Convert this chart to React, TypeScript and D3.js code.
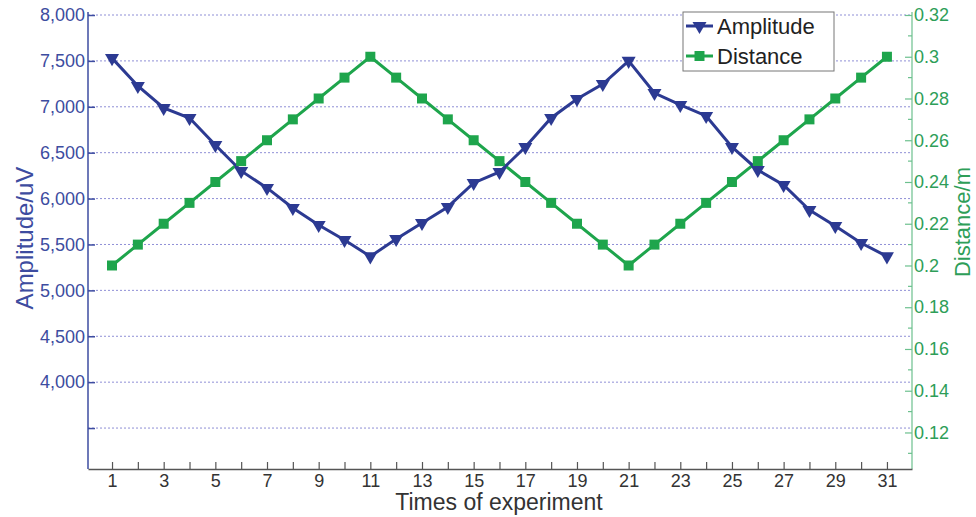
import React, { useEffect, useRef } from 'react';
import * as d3 from 'd3';

const runs = d3.range(1, 32);
const amplitude = [7530, 7227, 6987, 6878, 6584, 6301, 6116, 5898, 5712, 5549, 5370,
    5560, 5734, 5909, 6170, 6290, 6562, 6878, 7085, 7248, 7500,
    7150, 7020, 6900, 6562, 6312, 6148, 5876, 5702, 5516, 5370];
const distance = [0.2, 0.21, 0.22, 0.23, 0.24, 0.25, 0.26, 0.27, 0.28, 0.29, 0.3,
    0.29, 0.28, 0.27, 0.26, 0.25, 0.24, 0.23, 0.22, 0.21, 0.2,
    0.21, 0.22, 0.23, 0.24, 0.25, 0.26, 0.27, 0.28, 0.29, 0.3];
const ampTicks = [3500, 4000, 4500, 5000, 5500, 6000, 6500, 7000, 7500, 8000];
const distTicks = [0.12, 0.14, 0.16, 0.18, 0.2, 0.22, 0.24, 0.26, 0.28, 0.3, 0.32];
const distMinor = [0.11, 0.13, 0.15, 0.17, 0.19, 0.21, 0.23, 0.25, 0.27, 0.29, 0.31];

const BLUE = '#2c3a92';
const GREEN = '#1ea54c';

export default function App() {
    const chartRef = useRef<SVGSVGElement>(null);

    const width = 976;
    const height = 517;
    const left = 88, right = 912, top = 15, bottom = 469;

    useEffect(() => {
        const svg = d3.select(chartRef.current);
        svg.selectAll('*').remove();

        const x = d3.scaleLinear().domain([0.07, 31.97]).range([left, right]);
        const yA = d3.scaleLinear().domain([3054, 8000]).range([bottom, top]);
        const yD = d3.scaleLinear().domain([0.1025, 0.32]).range([bottom, top]);
        const font = 'Liberation Sans, Arial, sans-serif';

        // grid
        svg.append('g').selectAll('line')
            .data(ampTicks)
            .enter().append('line')
            .attr('x1', left).attr('x2', right)
            .attr('y1', d => yA(d)).attr('y2', d => yA(d))
            .attr('stroke', '#8f8fd6')
            .attr('stroke-width', 1)
            .attr('stroke-dasharray', '2,2');

        // left axis
        const leftAxis = d3.axisLeft(yA).tickValues(ampTicks)
            .tickSizeInner(-7).tickSizeOuter(0).tickPadding(10)
            .tickFormat(d => (+d === 3500 ? '' : d3.format(',')(+d)));
        const gl = svg.append('g').attr('transform', `translate(${left},0)`).call(leftAxis);
        gl.select('.domain').attr('stroke', '#3d4ca0').attr('stroke-width', 1.5).attr('d', `M0,${top - 3}V${bottom}`);
        gl.selectAll('.tick line').attr('stroke', '#3d4ca0').attr('stroke-width', 1.5);
        gl.selectAll('.tick text').attr('fill', '#3d4ca0').style('font-size', '18px').style('font-family', font)
            .attr('x', -3);

        // right axis
        const rightAxis = d3.axisRight(yD).tickValues(distTicks)
            .tickSizeInner(-7).tickSizeOuter(0).tickPadding(10)
            .tickFormat(d => String(+d));
        const gr = svg.append('g').attr('transform', `translate(${right},0)`).call(rightAxis);
        gr.select('.domain').attr('stroke', '#6cc08e').attr('stroke-width', 1.2).attr('d', `M0,${top - 3}V${bottom}`);
        gr.selectAll('.tick line').attr('stroke', '#6cc08e').attr('stroke-width', 1.2);
        gr.selectAll('.tick text').attr('fill', '#2e9e58').style('font-size', '18px').style('font-family', font)
            .attr('x', 2);
        gr.append('g').selectAll('line')
            .data(distMinor)
            .enter().append('line')
            .attr('x1', -4).attr('x2', 0)
            .attr('y1', d => yD(d)).attr('y2', d => yD(d))
            .attr('stroke', '#6cc08e').attr('stroke-width', 1.2);

        // bottom axis
        const bottomAxis = d3.axisBottom(x).tickValues(runs)
            .tickSizeInner(-7).tickSizeOuter(0).tickPadding(10)
            .tickFormat(d => (+d % 2 === 1 ? String(d) : ''));
        const gb = svg.append('g').attr('transform', `translate(0,${bottom})`).call(bottomAxis);
        gb.select('.domain').attr('stroke', '#555').attr('stroke-width', 1.5);
        gb.selectAll('.tick line').attr('stroke', '#555').attr('stroke-width', 1.2);
        gb.selectAll('.tick text').attr('fill', '#333').style('font-size', '18px').style('font-family', font)
            .attr('y', 5);

        // axis titles
        svg.append('text')
            .attr('transform', `translate(24,238) rotate(-90)`)
            .attr('text-anchor', 'middle').attr('dominant-baseline', 'central')
            .attr('fill', '#3d4ca0').style('font-size', '24px').style('font-family', font)
            .text('Amplitude/uV');
        svg.append('text')
            .attr('transform', `translate(962,222) rotate(-90)`)
            .attr('text-anchor', 'middle').attr('dominant-baseline', 'central')
            .attr('fill', '#2e9e58').style('font-size', '22px').style('font-family', font)
            .text('Distance/m');
        svg.append('text')
            .attr('x', 499).attr('y', 510)
            .attr('text-anchor', 'middle')
            .attr('fill', '#333').style('font-size', '23px').style('font-family', font)
            .text('Times of experiment');

        // lines
        const lineA = d3.line<number>().x((d, i) => x(runs[i])).y(d => yA(d));
        const lineD = d3.line<number>().x((d, i) => x(runs[i])).y(d => yD(d));
        svg.append('path').datum(distance).attr('d', lineD)
            .attr('fill', 'none').attr('stroke', GREEN).attr('stroke-width', 3);
        svg.append('path').datum(amplitude).attr('d', lineA)
            .attr('fill', 'none').attr('stroke', BLUE).attr('stroke-width', 3);

        const tri = d3.symbol().type(d3.symbolTriangle).size(85);
        const sq = d3.symbol().type(d3.symbolSquare).size(100);

        svg.append('g').selectAll('path')
            .data(distance).enter().append('path')
            .attr('d', sq)
            .attr('transform', (d, i) => `translate(${x(runs[i])},${yD(d)})`)
            .attr('fill', GREEN);
        svg.append('g').selectAll('path')
            .data(amplitude).enter().append('path')
            .attr('d', tri)
            .attr('transform', (d, i) => `translate(${x(runs[i])},${yA(d)}) rotate(180)`)
            .attr('fill', BLUE);

        // legend
        const lg = svg.append('g');
        lg.append('rect')
            .attr('x', 683).attr('y', 12).attr('width', 151).attr('height', 59)
            .attr('fill', 'white').attr('stroke', '#777').attr('stroke-width', 1);
        const items = [
            { name: 'Amplitude', color: BLUE, sym: tri, rot: 180, y: 26 },
            { name: 'Distance', color: GREEN, sym: sq, rot: 0, y: 56 },
        ];
        items.forEach(it => {
            lg.append('line')
                .attr('x1', 686).attr('x2', 713).attr('y1', it.y).attr('y2', it.y)
                .attr('stroke', it.color).attr('stroke-width', 3);
            lg.append('path').attr('d', it.sym)
                .attr('transform', `translate(699.5,${it.y}) rotate(${it.rot})`)
                .attr('fill', it.color);
            lg.append('text')
                .attr('x', 717).attr('y', it.y)
                .attr('dominant-baseline', 'central')
                .attr('fill', '#222').style('font-size', '22px').style('font-family', font)
                .text(it.name);
        });
    });

    return (
        <svg ref={chartRef}
            width={width}
            height={height}
            style={{ position: 'absolute', left: 0, top: 0, background: 'white' }}>
        </svg>
    );
}
